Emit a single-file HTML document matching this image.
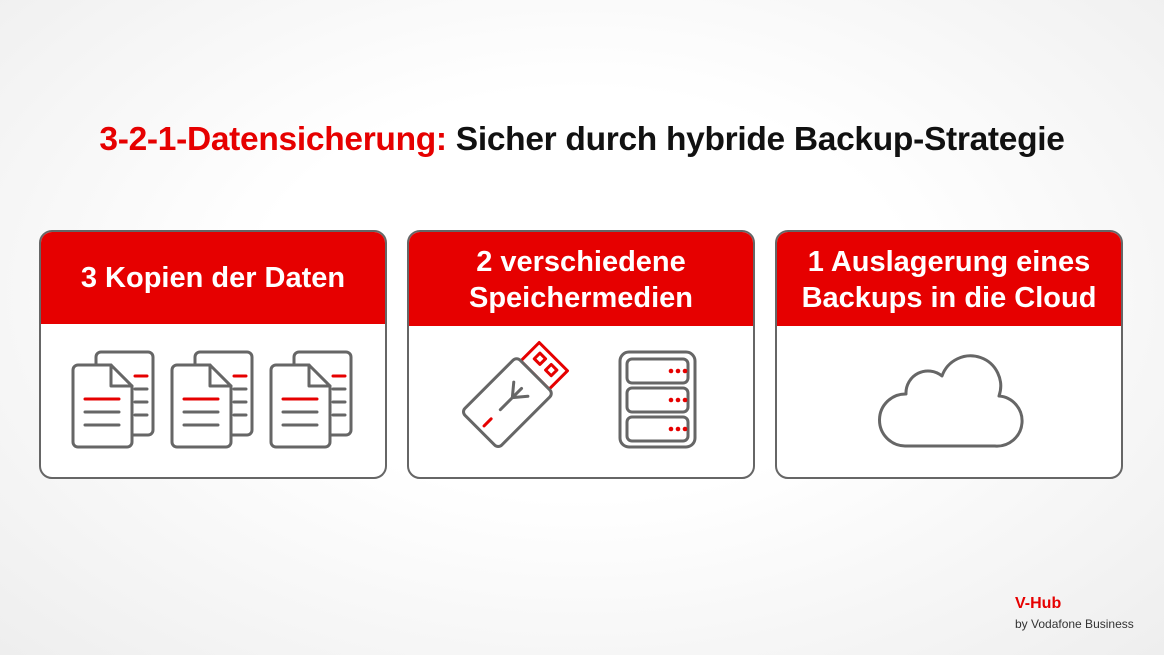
<!DOCTYPE html>
<html><head><meta charset="utf-8"><style>
body{margin:0;width:1164px;height:655px;overflow:hidden;background:radial-gradient(ellipse at 50% 45%,#fff 40%,#eeeeee 100%);font-family:"Liberation Sans",sans-serif;position:relative}
.t{position:absolute;top:121px;left:0;width:1164px;text-align:center;font-size:33.5px;font-weight:bold;color:#111;letter-spacing:-0.3px}
.t span{color:#e60000}
.card{position:absolute;top:230px;width:344px;height:245px;border:2px solid #666;border-radius:13px;background:#fff;overflow:hidden}
.hd{height:92px;background:#e60000;color:#fff;font-weight:bold;font-size:29px;line-height:36px;display:flex;align-items:center;justify-content:center;text-align:center}
.foot{position:absolute;left:1015px;top:595px;color:#e60000;font-weight:bold;font-size:16px}
.foot2{position:absolute;left:1015px;top:617px;color:#333;font-size:12px}
</style></head><body>
<div class="t"><span>3-2-1-Datensicherung:</span> Sicher durch hybride Backup-Strategie</div>
<div class="card" style="left:39px"><div class="hd">3 Kopien der Daten</div></div>
<div class="card" style="left:407px"><div class="hd" style="padding-top:2px">2 verschiedene<br>Speichermedien</div></div>
<div class="card" style="left:775px"><div class="hd" style="padding-top:2px">1 Auslagerung eines<br>Backups in die Cloud</div></div>
<svg width="1164" height="655" style="position:absolute;left:0;top:0" fill="none" stroke-width="3" stroke-linecap="round" stroke-linejoin="round">
<defs><g id="doc">
<rect x="23" y="-13" width="57" height="83" rx="5" fill="#fff" stroke="#666"/>
<line x1="62" y1="11" x2="74" y2="11" stroke="#e60000"/>
<line x1="62" y1="24" x2="74" y2="24" stroke="#666"/>
<line x1="62" y1="37" x2="74" y2="37" stroke="#666"/>
<line x1="62" y1="50" x2="74" y2="50" stroke="#666"/>
<path d="M5 0 H38 L59 21 V77 a5 5 0 0 1-5 5 H5 a5 5 0 0 1-5-5 V5 a5 5 0 0 1 5-5z" fill="#fff" stroke="#666"/>
<path d="M38 0 V21 H59" stroke="#666"/>
<line x1="12" y1="34" x2="46" y2="34" stroke="#e60000"/>
<line x1="12" y1="47" x2="46" y2="47" stroke="#666"/>
<line x1="12" y1="60" x2="46" y2="60" stroke="#666"/>
</g></defs>
<use href="#doc" x="73" y="365"/><use href="#doc" x="172" y="365"/><use href="#doc" x="271" y="365"/>
<g transform="translate(518,392) rotate(45)">
<rect x="-20" y="-50" width="40" height="26" stroke="#e60000" fill="#fff"/>
<rect x="-12" y="-43" width="8" height="8" stroke="#e60000"/><rect x="4" y="-43" width="8" height="8" stroke="#e60000"/>
<rect x="-26" y="-24" width="52" height="78" rx="5" stroke="#666" fill="#fff"/>
<path d="M0 25 V-5 M0 8 L-10 -4 M0 8 L10 -4" stroke="#666"/>
<line x1="0" y1="38" x2="0" y2="48" stroke="#e60000"/>
</g>
<rect x="620" y="352" width="75" height="95" rx="9" stroke="#666"/>
<rect x="627" y="359" width="61" height="24" rx="5" stroke="#666"/>
<rect x="627" y="388" width="61" height="24" rx="5" stroke="#666"/>
<rect x="627" y="417" width="61" height="24" rx="5" stroke="#666"/>
<g fill="#e60000" stroke="none"><circle cx="671" cy="371" r="2.3"/><circle cx="678" cy="371" r="2.3"/><circle cx="685" cy="371" r="2.3"/>
<circle cx="671" cy="400" r="2.3"/><circle cx="678" cy="400" r="2.3"/><circle cx="685" cy="400" r="2.3"/>
<circle cx="671" cy="429" r="2.3"/><circle cx="678" cy="429" r="2.3"/><circle cx="685" cy="429" r="2.3"/></g>
<path d="M905 446 H995 a25 25 0 0 0 4-50 a30 30 0 0 0-57-20 a22 22 0 0 0-36 18 a26 26 0 0 0-1 52z" stroke="#666"/>
</svg>
<div class="foot">V-Hub</div><div class="foot2">by Vodafone Business</div>
</body></html>
